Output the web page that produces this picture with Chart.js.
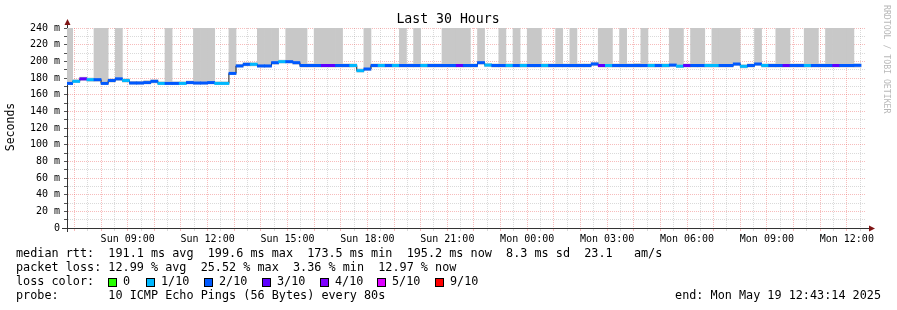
<!DOCTYPE html>
<html>
<head>
<meta charset="utf-8">
<script src="https://cdn.jsdelivr.net/npm/chart.js@4.4.1/dist/chart.umd.min.js"></script>
<style>
  html, body { margin: 0; padding: 0; background: #fff; }
  #wrap { width: 897px; height: 310px; }
</style>
</head>
<body>
<div id="wrap"><canvas id="graph" width="897" height="310"></canvas></div>
<script>
// time axis: hours since Sun 00:00, rrd steps of 16 minutes
const FIRST_BIN_MIN = 400;
const BIN_MIN = 16;
const START_H = 6 + 43 / 60 + 14 / 3600;
const END_H = START_H + 30;

// median rtt per step (ms)
const median = [
  173.5, 176, 179, 178, 178, 173.5, 177, 179, 177, 174,
  174, 174.5, 176, 173.5, 173.5, 173.5, 173.5, 174.5, 174, 174,
  174.5, 173.5, 173.5, 185.5, 194.5, 196.4, 196.4, 194.5, 194.5, 198.4,
  199.6, 199.6, 198.4, 195, 195, 195, 195, 195, 195, 195,
  195, 188.8, 190.8, 195, 195, 195, 195, 195, 195, 195,
  195, 195, 195, 195, 195, 195, 195, 195, 198.4, 195.5,
  195, 195, 195, 195, 195, 195, 195, 195, 195, 195,
  195, 195, 195, 195, 196.8, 195, 195, 195, 195, 195,
  195, 195, 195, 195, 195, 195.5, 194.2, 195, 195, 195,
  195, 195, 195, 195, 196.8, 194, 195, 196.8, 195, 195,
  195, 195, 195, 195, 195, 195, 195, 195, 195, 195,
  195, 195.2
];

// lost pings out of 10 per step
const lossTenths = [
  2, 1, 3, 1, 2, 2, 2, 2, 1, 2,
  2, 2, 2, 1, 2, 2, 1, 2, 2, 2,
  2, 1, 1, 2, 2, 2, 1, 2, 2, 2,
  1, 2, 2, 2, 2, 2, 3, 3, 2, 2,
  1, 1, 2, 2, 1, 2, 1, 2, 2, 2,
  1, 2, 2, 2, 2, 3, 2, 2, 2, 1,
  2, 2, 1, 2, 1, 2, 2, 1, 2, 2,
  2, 2, 2, 2, 2, 3, 1, 2, 2, 2,
  2, 2, 1, 2, 1, 2, 1, 3, 2, 2,
  1, 1, 2, 2, 2, 1, 2, 2, 1, 2,
  2, 3, 2, 2, 1, 2, 2, 2, 3, 2,
  2, 2
];

// smoke (spread of the 10 pings), 240 = off the top of the graph
const smokeLow = [
  172, 174.5, 177, 176, 176, 172, 175, 177, 175, 172.5,
  172.5, 173, 174, 172, 172, 172, 172, 173, 172.5, 172.5,
  173, 172, 172, 184, 193, 194.5, 194.5, 193, 193, 196.5,
  198, 198, 196.5, 193, 193, 193, 193, 193, 193, 193,
  193, 187, 189, 193, 193, 193, 193, 193, 193, 193,
  193, 193, 193, 193, 193, 193, 193, 193, 196.5, 193.5,
  193, 193, 193, 193, 193, 193, 193, 193, 193, 193,
  193, 193, 193, 193, 195, 193, 193, 193, 193, 193,
  193, 193, 193, 193, 193, 193.5, 192.5, 193, 193, 193,
  193, 193, 193, 193, 195, 192, 193, 195, 193, 193,
  193, 193, 193, 193, 193, 193, 193, 193, 193, 193,
  193, 193
];
const smokeHigh = [
  240, 178, 181, 180, 240, 240, 179, 240, 179, 176,
  176, 177, 178, 175.5, 240, 175.5, 175.5, 176.5, 240, 240,
  240, 175.5, 175.5, 240, 196.5, 198.5, 198.5, 240, 240, 240,
  201.5, 240, 240, 240, 197, 240, 240, 240, 240, 197,
  197, 191, 240, 197, 197, 197, 197, 240, 197, 240,
  197, 197, 197, 240, 240, 240, 240, 197, 240, 197.5,
  197, 240, 197, 240, 197, 240, 240, 197, 197, 240,
  197, 240, 197, 197, 199, 240, 240, 197, 240, 197,
  197.5, 240, 197, 197, 197, 240, 240, 197, 240, 240,
  197, 240, 240, 240, 240, 196, 197, 240, 197, 197,
  240, 240, 197, 197, 240, 240, 197, 240, 240, 240,
  240, 197
];

const lossColors = { 0: '#26ff00', 1: '#00b8ff', 2: '#0059ff', 3: '#5e00ff', 4: '#7e00ff', 5: '#dd00ff', 9: '#ff0000' };
const lossLegend = [[0, '0'], [1, '1/10'], [2, '2/10'], [3, '3/10'], [4, '4/10'], [5, '5/10'], [9, '9/10']];
const rttStats = ['191.1 ms avg', '199.6 ms max', '173.5 ms min', '195.2 ms now', '8.3 ms sd', '23.1   am/s'];
const lossStats = ['12.99 % avg', '25.52 % max', '3.36 % min', '12.97 % now'];
const probeText = '10 ICMP Echo Pings (56 Bytes) every 80s';
const endText = 'end: Mon May 19 12:43:14 2025';

const binHours = median.map((_, i) => (FIRST_BIN_MIN + (i + 0.5) * BIN_MIN) / 60);

const MONO = '"DejaVu Sans Mono", monospace';
const majorGrid = 'rgba(235,80,80,0.38)';
const minorGrid = 'rgba(150,150,150,0.35)';

const textPlugin = {
  id: 'rrdText',
  afterDraw(chart) {
    const ctx = chart.ctx, a = chart.chartArea;
    const ax = Math.floor(a.left) + 0.5, ay = Math.floor(a.bottom) + 0.5;
    ctx.save();
    // axis extensions + arrows
    ctx.strokeStyle = '#333';
    ctx.lineWidth = 1;
    ctx.beginPath();
    ctx.moveTo(ax, 24); ctx.lineTo(ax, a.top);
    ctx.moveTo(ax, a.bottom); ctx.lineTo(ax, 232);
    ctx.moveTo(62, ay); ctx.lineTo(a.left, ay);
    ctx.moveTo(a.right, ay); ctx.lineTo(869, ay);
    ctx.stroke();
    ctx.fillStyle = '#7f1515';
    ctx.beginPath();
    ctx.moveTo(ax, 19); ctx.lineTo(ax - 3, 25); ctx.lineTo(ax + 3, 25); ctx.closePath(); ctx.fill();
    ctx.beginPath();
    ctx.moveTo(875, ay); ctx.lineTo(869, ay - 3); ctx.lineTo(869, ay + 3); ctx.closePath(); ctx.fill();

    // title
    ctx.fillStyle = '#000';
    ctx.textBaseline = 'middle';
    ctx.textAlign = 'center';
    ctx.font = '13.2px ' + MONO;
    ctx.fillText('Last 30 Hours', 448, 20);

    // y title
    ctx.save();
    ctx.translate(11, 127);
    ctx.rotate(-Math.PI / 2);
    ctx.font = '11.5px ' + MONO;
    ctx.fillText('Seconds', 0, 0);
    ctx.restore();

    // watermark
    ctx.save();
    ctx.translate(886, 5);
    ctx.rotate(Math.PI / 2);
    ctx.textAlign = 'left';
    ctx.fillStyle = '#b8b8b8';
    ctx.font = '8.2px ' + MONO;
    ctx.fillText('RRDTOOL / TOBI OETIKER', 0, 0);
    ctx.restore();

    // legend
    ctx.textAlign = 'left';
    ctx.font = '11.8px ' + MONO;
    ctx.fillText('median rtt:  ' + rttStats.join('  '), 16, 254);
    ctx.fillText('packet loss: ' + lossStats.join('  '), 16, 268);
    ctx.fillText('loss color:', 16, 282);
    ctx.fillText('probe:       ' + probeText, 16, 296);
    const sqX = [108, 146, 204, 262, 320, 377, 435];
    lossLegend.forEach(([k, label], i) => {
      ctx.fillStyle = lossColors[k];
      ctx.fillRect(sqX[i], 278, 8, 8);
      ctx.strokeStyle = '#000';
      ctx.strokeRect(sqX[i] + 0.5, 278.5, 8, 8);
      ctx.fillStyle = '#000';
      ctx.fillText(label, sqX[i] + 15, 282);
    });
    ctx.textAlign = 'right';
    ctx.fillText(endText, 881, 296);
    ctx.restore();
  }
};

const barCommon = { grouped: false, categoryPercentage: 1, barPercentage: 1, borderWidth: 0, clip: 0 };

new Chart(document.getElementById('graph'), {
  type: 'bar',
  data: {
    datasets: [
      Object.assign({
        label: 'smoke',
        data: binHours.map((x, i) => ({ x, y: [smokeLow[i], smokeHigh[i]] })),
        backgroundColor: '#c8c8c8',
        order: 3
      }, barCommon),
      {
        type: 'line',
        label: 'median',
        data: binHours.map((x, i) => ({ x, y: median[i] })),
        stepped: 'middle',
        borderColor: '#1a1a1a',
        borderWidth: 1,
        pointRadius: 0,
        order: 2
      },
      Object.assign({
        label: 'loss',
        data: binHours.map((x, i) => ({ x, y: [median[i] - 1.4, median[i] + 1.4] })),
        backgroundColor: ctx => lossColors[lossTenths[ctx.dataIndex]] || '#0059ff',
        order: 1
      }, barCommon)
    ]
  },
  options: {
    responsive: false,
    devicePixelRatio: 1,
    animation: false,
    layout: { padding: { left: 0, top: 28, right: 31, bottom: 0 } },
    plugins: { legend: { display: false }, tooltip: { enabled: false } },
    scales: {
      x: {
        type: 'linear',
        min: START_H,
        max: END_H,
        offset: false,
        z: 1,
        afterBuildTicks: axis => {
          const t = [];
          for (let h = 7; h < END_H; h += 0.5) t.push({ value: h });
          axis.ticks = t;
        },
        afterFit: s => { s.height = 82; },
        grid: {
          offset: false,
          color: c => (c.tick && c.tick.value % 1 === 0 ? majorGrid : minorGrid),
          tickLength: 3,
          tickBorderDash: []
        },
        border: { color: '#333', dash: [1, 1] },
        ticks: {
          autoSkip: false,
          maxRotation: 0,
          padding: 2,
          color: '#000',
          font: { family: MONO, size: 10 },
          callback: v => {
            if (v % 3 !== 0) return '';
            const day = v < 24 ? 'Sun' : 'Mon';
            return day + ' ' + String(v % 24).padStart(2, '0') + ':00';
          }
        }
      },
      y: {
        min: 0,
        max: 240,
        z: 1,
        afterFit: s => { s.width = 67; },
        grid: {
          color: c => (c.tick && c.tick.value % 20 === 0 ? majorGrid : minorGrid),
          tickLength: 3,
          tickColor: '#555',
          tickBorderDash: []
        },
        border: { color: '#333', dash: [1, 1] },
        ticks: {
          stepSize: 10,
          autoSkip: false,
          padding: 4,
          color: '#000',
          font: { family: MONO, size: 10 },
          callback: v => (v % 20 === 0 ? (v === 0 ? '0' : v + ' m') : '')
        }
      }
    }
  },
  plugins: [textPlugin]
});
</script>
</body>
</html>
